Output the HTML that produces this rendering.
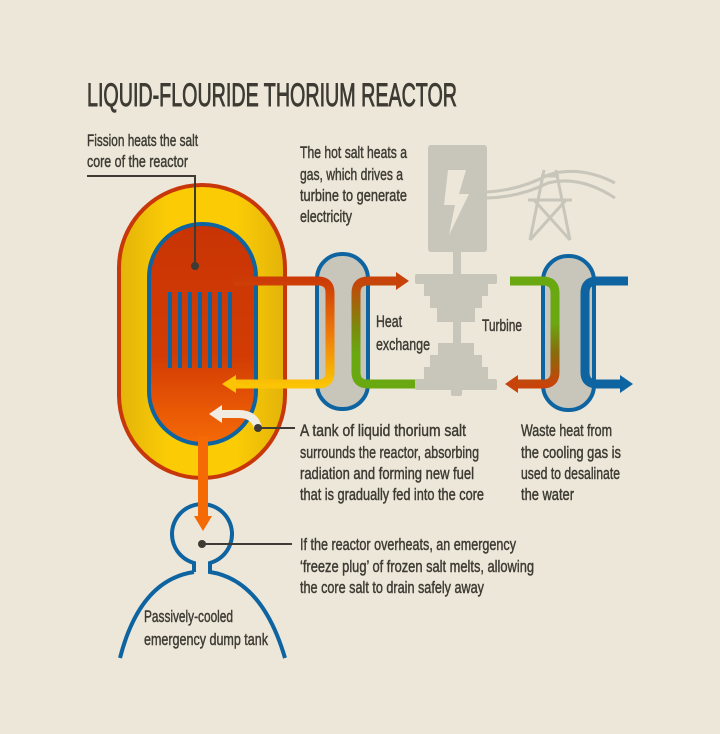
<!DOCTYPE html>
<html><head><meta charset="utf-8"><style>
html,body{margin:0;padding:0;background:#ede7da;}
svg{display:block}
text{font-family:"Liberation Sans Narrow","Liberation Sans",sans-serif;fill:#3d3b33;font-size:17px;stroke:#3d3b33;stroke-width:0.45px}
</style></head><body>
<svg width="720" height="734" viewBox="0 0 720 734" xmlns="http://www.w3.org/2000/svg">
<defs>
<linearGradient id="yel" x1="0" x2="1" y1="0" y2="0">
<stop offset="0" stop-color="#e3b30a"/><stop offset="0.3" stop-color="#fbcc06"/><stop offset="0.7" stop-color="#fbcc06"/><stop offset="1" stop-color="#e3b30a"/>
</linearGradient>
<linearGradient id="core" x1="0" x2="0" y1="0" y2="1">
<stop offset="0" stop-color="#c93405"/><stop offset="0.6" stop-color="#d23c04"/><stop offset="1" stop-color="#f66a06"/>
</linearGradient>
<linearGradient id="hot" gradientUnits="userSpaceOnUse" x1="0" y1="281" x2="0" y2="385">
<stop offset="0" stop-color="#cc3b06"/><stop offset="0.5" stop-color="#ee7a0a"/><stop offset="1" stop-color="#fbc404"/>
</linearGradient>
<linearGradient id="gr" gradientUnits="userSpaceOnUse" x1="0" y1="281" x2="0" y2="385">
<stop offset="0" stop-color="#c8430a"/><stop offset="0.45" stop-color="#7a8a0c"/><stop offset="0.7" stop-color="#6aa812"/><stop offset="1" stop-color="#6aa812"/>
</linearGradient>
<linearGradient id="gr2" gradientUnits="userSpaceOnUse" x1="0" y1="281" x2="0" y2="385">
<stop offset="0" stop-color="#6aa812"/><stop offset="0.4" stop-color="#6aa812"/><stop offset="0.7" stop-color="#8a6a0c"/><stop offset="1" stop-color="#c8430a"/>
</linearGradient>
</defs>

<text x="87" y="106" style="font-size:32px;stroke-width:0.9px" textLength="370" lengthAdjust="spacingAndGlyphs" fill="#44423a">LIQUID-FLOURIDE THORIUM REACTOR</text>

<!-- reactor -->
<rect x="119" y="185" width="166" height="293" rx="83" fill="url(#yel)" stroke="#c8370a" stroke-width="4"/>
<rect x="149" y="224" width="107" height="220" rx="53" fill="url(#core)" stroke="#0e64a0" stroke-width="4"/>
<g fill="#0e64a0">
<rect x="168" y="292" width="4" height="76"/><rect x="178" y="292" width="4" height="76"/><rect x="188" y="292" width="4" height="76"/><rect x="198" y="292" width="4" height="76"/><rect x="208" y="292" width="4" height="76"/><rect x="218" y="292" width="4" height="76"/><rect x="228" y="292" width="4" height="76"/>
</g>
<polyline points="195,266 195,176 87,176" fill="none" stroke="#3d3b33" stroke-width="2"/>
<circle cx="195" cy="266" r="4" fill="#3d3b33"/>
<text x="87" y="146" textLength="111" lengthAdjust="spacingAndGlyphs">Fission heats the salt</text>
<text x="87" y="167" textLength="101" lengthAdjust="spacingAndGlyphs">core of the reactor</text>

<!-- heat exchanger 1 -->
<rect x="317" y="254" width="51" height="155" rx="25" fill="#c8c5ba" stroke="#0e64a0" stroke-width="4"/>
<path d="M234 281 H318 Q330 281 330 293 V372 Q330 384 318 384 H234" fill="none" stroke="url(#hot)" stroke-width="9"/>
<polygon points="222,384 236,375 236,393" fill="#fbc404"/>
<path d="M420 384 H368 Q356 384 356 372 V293 Q356 281 368 281 H398" fill="none" stroke="url(#gr)" stroke-width="9"/>
<polygon points="409,281 396,272 396,290" fill="#c8430a"/>
<text x="376" y="327" textLength="26" lengthAdjust="spacingAndGlyphs">Heat</text>
<text x="376" y="350" textLength="54" lengthAdjust="spacingAndGlyphs">exchange</text>

<!-- generator/turbine -->
<g fill="#c8c5ba">
<rect x="428" y="145" width="59" height="107" rx="3"/>
<rect x="453" y="250" width="8" height="30"/>
<rect x="415" y="274" width="82" height="10" rx="2"/>
<rect x="424" y="284" width="64" height="12"/>
<rect x="430" y="296" width="52" height="12"/>
<rect x="437" y="308" width="38" height="14"/>
<rect x="453" y="320" width="8" height="28"/>
<rect x="438" y="343" width="36" height="14"/>
<rect x="430" y="355" width="52" height="12"/>
<rect x="424" y="367" width="64" height="12"/>
<rect x="415" y="379" width="82" height="11" rx="2"/>
<rect x="451" y="388" width="11" height="8" rx="2"/>
</g>
<polygon points="448,170 466,170 459,194 469,194 449,235 455,205 444,205" fill="#ede7da"/>
<g fill="none" stroke="#c8c5ba" stroke-width="3">
<path d="M487 192 Q520 190 548 175 Q580 165 615 183"/>
<path d="M487 198 Q520 197 548 183 Q580 175 615 198"/>
<path d="M544 170 L530 240 M556 170 L570 240 M528 200 H572 M530 240 L566 200 M570 240 L534 200 M541 176 H559"/>
</g>
<text x="482" y="331" textLength="40" lengthAdjust="spacingAndGlyphs">Turbine</text>

<!-- heat exchanger 2 -->
<rect x="543" y="256" width="51" height="154" rx="25" fill="#c8c5ba" stroke="#0e64a0" stroke-width="4"/>
<path d="M510 281 H543 Q555 281 555 293 V372 Q555 384 543 384 H516" fill="none" stroke="url(#gr2)" stroke-width="9"/>
<polygon points="505,384 518,375 518,393" fill="#c8430a"/>
<path d="M628 281 H597 Q585 281 585 293 V372 Q585 384 597 384 H620" fill="none" stroke="#0e64a0" stroke-width="9"/>
<polygon points="633,384 620,375 620,393" fill="#0e64a0"/>

<!-- white arrow -->
<path d="M258 428 Q255 414 238 414 H220" fill="none" stroke="#f1ece2" stroke-width="8"/>
<polygon points="209,414 222,405 222,423" fill="#f1ece2"/>
<line x1="258" y1="428" x2="295" y2="428" stroke="#3d3b33" stroke-width="2"/>
<circle cx="258" cy="428" r="4" fill="#3d3b33"/>
<text x="300" y="436" textLength="166" lengthAdjust="spacingAndGlyphs">A tank of liquid thorium salt</text>
<text x="300" y="458" textLength="179" lengthAdjust="spacingAndGlyphs">surrounds the reactor, absorbing</text>
<text x="300" y="479" textLength="174" lengthAdjust="spacingAndGlyphs">radiation and forming new fuel</text>
<text x="300" y="500" textLength="184" lengthAdjust="spacingAndGlyphs">that is gradually fed into the core</text>

<text x="521" y="436" textLength="91" lengthAdjust="spacingAndGlyphs">Waste heat from</text>
<text x="521" y="458" textLength="100" lengthAdjust="spacingAndGlyphs">the cooling gas is</text>
<text x="521" y="479" textLength="99" lengthAdjust="spacingAndGlyphs">used to desalinate</text>
<text x="521" y="500" textLength="53" lengthAdjust="spacingAndGlyphs">the water</text>

<!-- dump tank -->
<path d="M194 572 V563 A30 30 0 1 1 210 563 V572 Q262 580 285 658 M194 572 Q140 580 120 658" fill="none" stroke="#0e64a0" stroke-width="4"/>
<rect x="198" y="436" width="10" height="82" fill="#f66a06"/>
<polygon points="194,516 212,516 203,531" fill="#f66a06"/>
<line x1="202" y1="544" x2="292" y2="544" stroke="#3d3b33" stroke-width="2"/>
<circle cx="202" cy="544" r="4" fill="#3d3b33"/>
<text x="300" y="550" textLength="216" lengthAdjust="spacingAndGlyphs">If the reactor overheats, an emergency</text>
<text x="300" y="572" textLength="234" lengthAdjust="spacingAndGlyphs">‘freeze plug’ of frozen salt melts, allowing</text>
<text x="300" y="593" textLength="184" lengthAdjust="spacingAndGlyphs">the core salt to drain safely away</text>
<text x="144" y="622" textLength="89" lengthAdjust="spacingAndGlyphs">Passively-cooled</text>
<text x="144" y="645" textLength="124" lengthAdjust="spacingAndGlyphs">emergency dump tank</text>

<text x="300" y="158" textLength="107" lengthAdjust="spacingAndGlyphs">The hot salt heats a</text>
<text x="300" y="180" textLength="103" lengthAdjust="spacingAndGlyphs">gas, which drives a</text>
<text x="300" y="201" textLength="107" lengthAdjust="spacingAndGlyphs">turbine to generate</text>
<text x="300" y="222" textLength="52" lengthAdjust="spacingAndGlyphs">electricity</text>
</svg>
</body></html>
